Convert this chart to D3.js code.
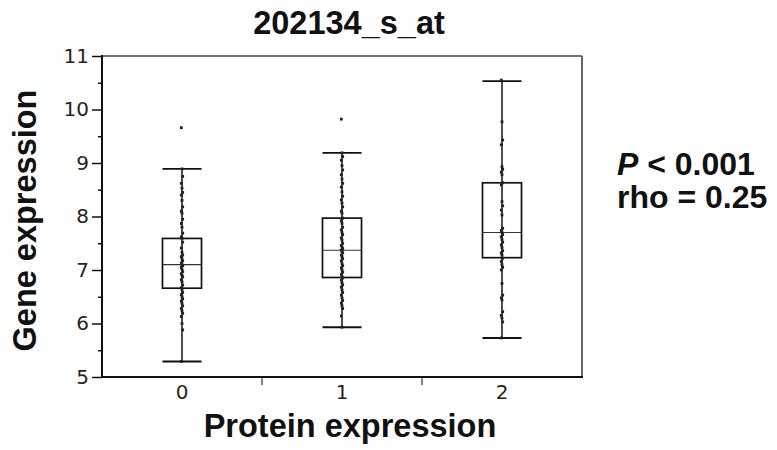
<!DOCTYPE html>
<html>
<head>
<meta charset="utf-8">
<script src="https://cdn.jsdelivr.net/npm/d3@7"></script>
<style>
  body { margin: 0; background: #fff; }
  svg { display: block; }
</style>
</head>
<body>
<svg id="chart" width="777" height="450"></svg>
<script>
// categories (protein expression level)
const groups = ['0', '1', '2']

// box statistics
const lowWhisker = [5.29, 5.93, 5.73]
const q1 = [6.66, 6.86, 7.23]
const median = [7.10, 7.37, 7.70]
const q3 = [7.59, 7.97, 8.63]
const highWhisker = [8.89, 9.19, 10.53]

// individual samples per group
const points0 = [9.66, 8.89, 8.75, 8.62, 8.53, 8.45, 8.40, 8.30, 8.18, 8.10, 8.06, 7.95, 7.87, 7.80, 7.69, 7.62, 7.59, 7.52, 7.41, 7.33, 7.28, 7.25, 7.21, 7.17, 7.13, 7.10, 7.08, 7.05, 7.01, 6.97, 6.93, 6.90, 6.87, 6.82, 6.78, 6.72, 6.67, 6.63, 6.58, 6.54, 6.50, 6.46, 6.42, 6.38, 6.33, 6.28, 6.24, 6.19, 6.13, 6.00, 5.88, 5.29]
const points1 = [9.82, 9.19, 9.12, 9.05, 8.95, 8.87, 8.78, 8.70, 8.62, 8.55, 8.46, 8.38, 8.31, 8.25, 8.18, 8.10, 8.06, 7.97, 7.92, 7.87, 7.80, 7.75, 7.70, 7.66, 7.60, 7.56, 7.50, 7.46, 7.43, 7.40, 7.37, 7.35, 7.32, 7.28, 7.25, 7.21, 7.17, 7.12, 7.08, 7.04, 7.00, 6.96, 6.92, 6.88, 6.85, 6.81, 6.76, 6.72, 6.68, 6.63, 6.58, 6.53, 6.48, 6.43, 6.38, 6.33, 6.28, 6.14, 5.93]
const points2 = [10.55, 9.77, 9.43, 9.34, 8.93, 8.88, 8.83, 8.78, 8.63, 8.59, 8.28, 8.20, 8.12, 8.03, 7.78, 7.74, 7.70, 7.66, 7.62, 7.57, 7.52, 7.47, 7.42, 7.36, 7.32, 7.28, 7.22, 7.16, 7.10, 7.05, 7.00, 6.75, 6.53, 6.48, 6.44, 6.22, 6.15, 6.10, 6.03, 5.73]

const yTicks = [5, 6, 7, 8, 9, 10, 11]
const yMinorTicks = [5.5, 6.5, 7.5, 8.5, 9.5, 10.5]

const title = '202134_s_at'
const xTitle = 'Protein expression'
const yTitle = 'Gene expression'

const margin = { left: 102, right: 582, top: 56, bottom: 377 }
const svg = d3.select('#chart')

const x = d3.scaleBand().domain(groups).range([margin.left, margin.right]).padding(0)
const y = d3.scaleLinear().domain([5, 11]).range([margin.bottom, margin.top])

const tickFont = '"DejaVu Sans", Verdana, sans-serif'
const boldFont = '"Liberation Sans", Arial, sans-serif'

// 主刻度
svg.append('g')
    .attr('transform', `translate(${margin.left},0)`)
    .call(d3.axisLeft(y).tickValues(yTicks).tickSize(10).tickSizeOuter(0).tickPadding(3).tickFormat(d3.format('d')))
    .call(g => g.select('.domain').remove())
    .call(g => g.selectAll('line').attr('stroke', '#111').attr('stroke-width', 1.5))
    .call(g => g.selectAll('text').attr('font-family', tickFont).attr('font-size', 20).attr('fill', '#2b2218'))

// 次刻度
svg.append('g')
    .attr('transform', `translate(${margin.left},0)`)
    .call(d3.axisLeft(y).tickValues(yMinorTicks).tickSize(4).tickSizeOuter(0).tickFormat(''))
    .call(g => g.select('.domain').remove())
    .call(g => g.selectAll('line').attr('stroke', '#111').attr('stroke-width', 1.5))

// x 標籤 (無刻度線)
svg.append('g')
    .attr('transform', `translate(0,${margin.bottom})`)
    .call(d3.axisBottom(x).tickSize(0).tickPadding(8))
    .call(g => g.select('.domain').remove())
    .call(g => g.selectAll('text').attr('font-family', tickFont).attr('font-size', 20).attr('fill', '#2b2218'))

// x 刻度在組之間
svg.append('g').selectAll('line')
    .data(groups.slice(1))
    .join('line')
    .attr('x1', d => x(d)).attr('x2', d => x(d))
    .attr('y1', margin.bottom).attr('y2', margin.bottom + 8)
    .attr('stroke', '#333').attr('stroke-width', 1.2)

// 外框
const frame = svg.append('g')
frame.append('line').attr('x1', margin.left).attr('x2', margin.right).attr('y1', margin.top).attr('y2', margin.top)
    .attr('stroke', '#444').attr('stroke-width', 1.5)
frame.append('line').attr('x1', margin.right).attr('x2', margin.right).attr('y1', margin.top).attr('y2', margin.bottom)
    .attr('stroke', '#666').attr('stroke-width', 2)
frame.append('line').attr('x1', margin.left).attr('x2', margin.left).attr('y1', margin.top - 1).attr('y2', margin.bottom + 1)
    .attr('stroke', '#111').attr('stroke-width', 2)
frame.append('line').attr('x1', margin.left - 1).attr('x2', margin.right + 1).attr('y1', margin.bottom).attr('y2', margin.bottom)
    .attr('stroke', '#111').attr('stroke-width', 2)

// 箱形
const stats = groups.map((g, i) => ({
    key: g, lo: lowWhisker[i], q1: q1[i], med: median[i], q3: q3[i], hi: highWhisker[i]
}))
const half = x.bandwidth() * 0.122
const boxG = svg.append('g').selectAll('g').data(stats).join('g')
    .attr('transform', d => `translate(${x(d.key) + x.bandwidth() / 2},0)`)

boxG.append('line').attr('x1', 0).attr('x2', 0)
    .attr('y1', d => y(d.hi)).attr('y2', d => y(d.lo))
    .attr('stroke', '#222').attr('stroke-width', 1.6)
boxG.append('rect')
    .attr('x', -half).attr('width', half * 2)
    .attr('y', d => y(d.q3)).attr('height', d => y(d.q1) - y(d.q3))
    .attr('fill', 'none').attr('stroke', '#111').attr('stroke-width', 1.7)
boxG.append('line').attr('x1', -half).attr('x2', half)
    .attr('y1', d => y(d.med)).attr('y2', d => y(d.med))
    .attr('stroke', '#333').attr('stroke-width', 1.1)
boxG.selectAll('.cap').data(d => [d.hi, d.lo]).join('line')
    .attr('class', 'cap')
    .attr('x1', -half).attr('x2', half)
    .attr('y1', d => y(d)).attr('y2', d => y(d))
    .attr('stroke', '#111').attr('stroke-width', 1.9)

// 樣本點
const allPoints = [points0, points1, points2]
svg.append('g').selectAll('g').data(allPoints).join('g')
    .attr('transform', (d, i) => `translate(${x(groups[i]) + x.bandwidth() / 2},0)`)
    .selectAll('rect').data(d => d).join('rect')
    .attr('x', (d, i) => -1.4 + ((i % 3) - 1) * 0.7)
    .attr('y', d => y(d) - 1.4)
    .attr('width', 2.8).attr('height', 2.8)
    .attr('fill', '#222')

// 標題
svg.append('text').text(title)
    .attr('x', 349).attr('y', 34)
    .attr('text-anchor', 'middle')
    .attr('font-family', boldFont).attr('font-weight', 'bold').attr('font-size', 32.5)
    .attr('fill', '#111')

svg.append('text').text(xTitle)
    .attr('x', 350).attr('y', 437)
    .attr('text-anchor', 'middle')
    .attr('font-family', boldFont).attr('font-weight', 'bold').attr('font-size', 32.5)
    .attr('fill', '#111')

svg.append('text').text(yTitle)
    .attr('transform', `translate(36,${(margin.top + margin.bottom) / 2 + 4}) rotate(-90)`)
    .attr('text-anchor', 'middle')
    .attr('font-family', boldFont).attr('font-weight', 'bold').attr('font-size', 32.5)
    .attr('fill', '#111')

// 統計結果
const stat = svg.append('g').attr('font-family', boldFont).attr('font-weight', 'bold').attr('font-size', 32).attr('fill', '#111')
const pLine = stat.append('text').attr('x', 617).attr('y', 175)
pLine.append('tspan').attr('font-style', 'italic').text('P')
pLine.append('tspan').text(' < 0.001')
stat.append('text').attr('x', 617).attr('y', 208).text('rho = 0.25')
</script>
</body>
</html>
